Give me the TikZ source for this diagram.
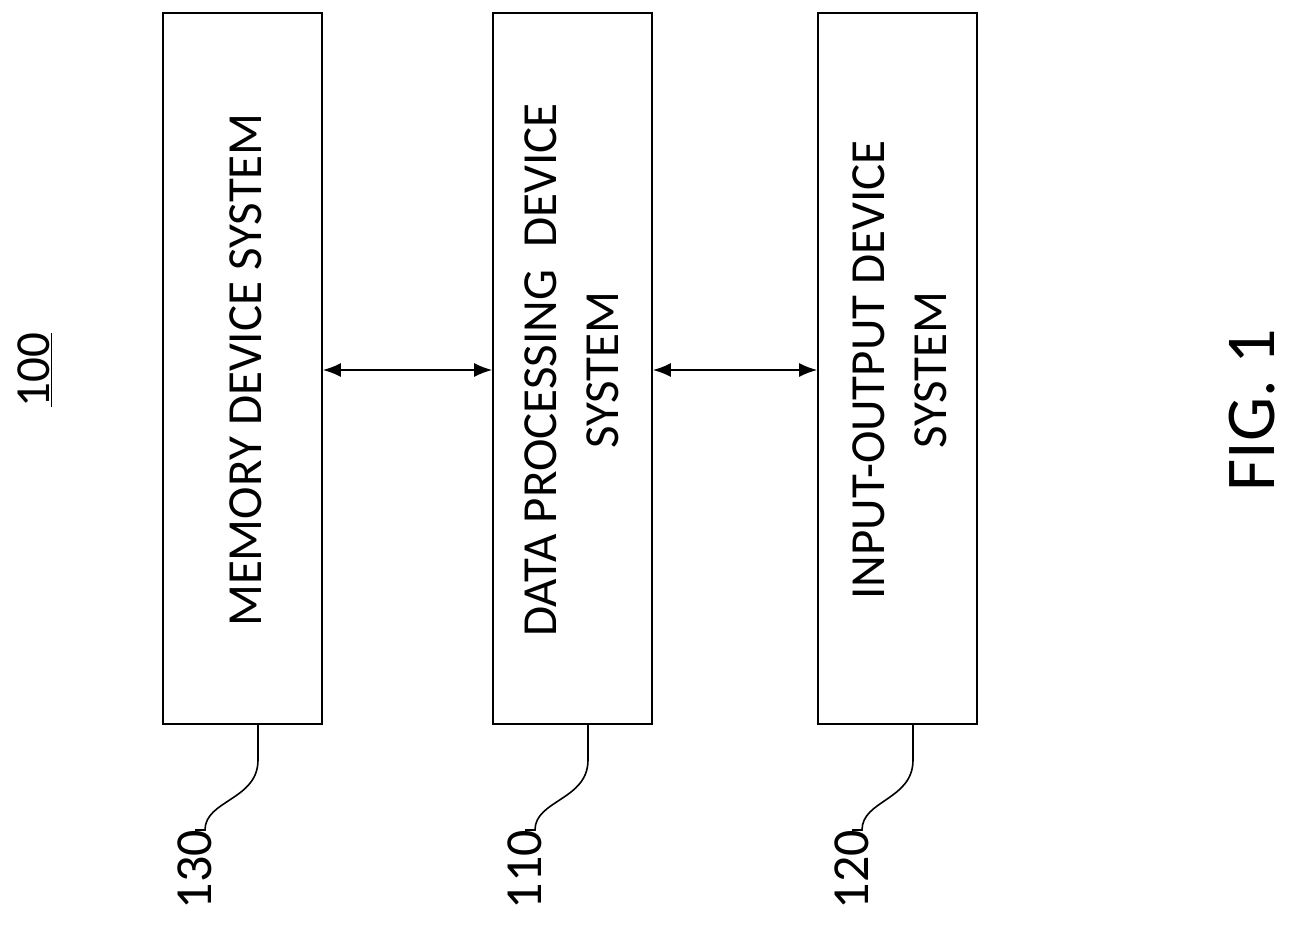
\documentclass[tikz,border=0pt]{standalone}
\usepackage{fontspec}
\setmainfont{Carlito}
\usetikzlibrary{arrows.meta}
\begin{document}
\begin{tikzpicture}[x=1pt,y=-1pt,
  box/.style={draw,line width=1.6pt,minimum width=159pt,minimum height=711pt,inner sep=0pt},
  lbl/.style={rotate=90,font=\fontsize{49}{62}\selectfont,align=center,inner sep=0pt},
  num/.style={rotate=90,font=\fontsize{52}{60}\selectfont,inner sep=0pt,anchor=east},
  arr/.style={{Latex[length=18pt,width=14pt]}-{Latex[length=18pt,width=14pt]},line width=1.8pt},
  lead/.style={line width=1.6pt}]
\useasboundingbox (0,0) rectangle (1290,936);
\node[box] (m) at (242.5,368.5) {};
\node[box] (d) at (572.5,368.5) {};
\node[box] (o) at (897.5,368.5) {};
\node[lbl] (mt) at (246,370) {MEMORY DEVICE SYSTEM};
\node[lbl] (dt) at (572,370) {DATA PROCESSING\ \ DEVICE\\SYSTEM};
\node[lbl] (ot) at (900,370) {INPUT-OUTPUT DEVICE\\SYSTEM};
\draw[arr] (m.east |- 0,370) -- (d.west |- 0,370);
\draw[arr] (d.east |- 0,370) -- (o.west |- 0,370);
\node[num] (n130) at (195,830) {130};
\node[num] (n110) at (525,830) {110};
\node[num] (n120) at (852,830) {120};
\coordinate (mb) at (258,724);
\coordinate (db) at (588,724);
\coordinate (ob) at (913,724);
\draw[lead] (mb) -- ++(0,36) .. controls ++(0,40) and ++(0,-30) .. ([xshift=10pt]n130.east) -- (n130.east);
\draw[lead] (db) -- ++(0,36) .. controls ++(0,40) and ++(0,-30) .. ([xshift=10pt]n110.east) -- (n110.east);
\draw[lead] (ob) -- ++(0,36) .. controls ++(0,40) and ++(0,-30) .. ([xshift=10pt]n120.east) -- (n120.east);
\node[lbl] (t100) at (35,370) {\underline{100}};
\node[rotate=90,font=\fontsize{70}{80}\selectfont,inner sep=0pt] (fig) at (1252,410) {FIG. 1};
\end{tikzpicture}
\end{document}
